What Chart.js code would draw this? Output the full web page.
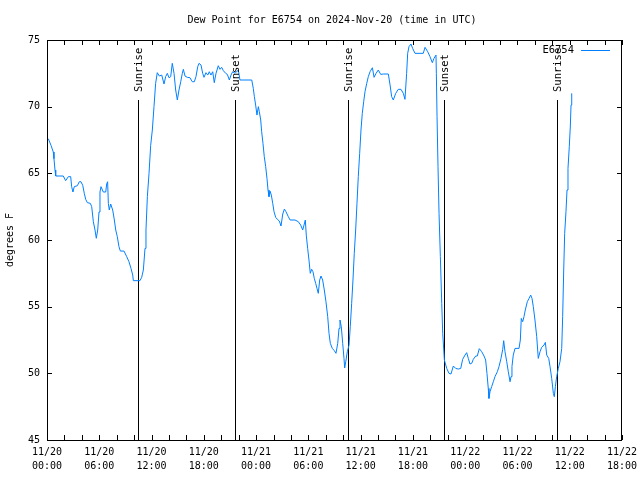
<!DOCTYPE html>
<html>
<head>
<meta charset="utf-8">
<script src="https://cdn.jsdelivr.net/npm/chart.js@4.4.1/dist/chart.umd.min.js"></script>
<style>
    html, body { margin: 0; padding: 0; background: #fff; }
    canvas { display: block; }
</style>
</head>
<body>
<canvas id="dewChart" width="640" height="480"></canvas>
<script>
// hours since 2024-11-20 00:00 UTC
const hours = [
    0.15, 0.46, 0.72, 0.8, 0.92, 1.0, 1.87, 2.14, 2.45, 2.72, 2.83, 2.98, 3.13, 3.48, 3.71, 3.9,
    4.1, 4.28, 4.44, 4.63, 4.97, 5.13, 5.32, 5.51, 5.66, 5.82, 5.97, 6.08, 6.2, 6.46, 6.74, 6.85,
    6.96, 7.04, 7.15, 7.31, 7.54, 7.73, 7.89, 8.07, 8.26, 8.42, 8.84, 9.15, 9.41, 9.64, 9.84, 9.91,
    10.67, 10.87, 11.06, 11.25, 11.36, 11.52, 11.71, 11.9, 12.09, 12.28, 12.47, 12.66, 12.89, 13.17,
    13.43, 13.62, 13.81, 14.0, 14.2, 14.38, 14.58, 14.77, 14.96, 15.15, 15.35, 15.53, 15.65, 15.84,
    16.1, 16.41, 16.68, 16.91, 17.1, 17.3, 17.45, 17.68, 17.87, 18.02, 18.25, 18.45, 18.63, 18.82,
    19.02, 19.2, 19.4, 19.66, 19.86, 20.05, 20.24, 20.51, 20.7, 20.93, 21.12, 21.31, 21.58, 21.96,
    22.15, 23.5, 23.68, 23.8, 23.95, 24.1, 24.26, 24.37, 24.53, 24.64, 24.79, 24.94, 25.1, 25.25,
    25.37, 25.48, 25.6, 25.75, 25.91, 26.06, 26.25, 26.44, 26.67, 26.86, 27.06, 27.25, 27.43, 27.7,
    27.9, 28.47, 28.85, 29.12, 29.35, 29.5, 29.65, 29.76, 29.92, 30.07, 30.22, 30.38, 30.53, 30.68,
    30.84, 30.99, 31.14, 31.3, 31.45, 31.64, 31.83, 32.02, 32.22, 32.37, 32.52, 32.75, 32.98, 33.17,
    33.37, 33.52, 33.63, 33.78, 33.94, 34.09, 34.17, 34.29, 34.47, 34.67, 34.81, 34.97, 35.12, 35.27,
    35.43, 35.58, 35.73, 35.89, 36.04, 36.19, 36.35, 36.5, 36.7, 36.88, 37.08, 37.35, 37.54, 37.77,
    38.03, 38.3, 38.6, 39.18, 39.38, 39.56, 39.75, 40.03, 40.32, 40.63, 40.9, 41.09, 41.28, 41.4,
    41.55, 41.78, 41.97, 42.24, 43.19, 43.39, 43.7, 43.96, 44.23, 44.42, 44.65, 44.69, 44.77, 44.88,
    45.0, 45.15, 45.31, 45.42, 45.54, 45.61, 45.88, 46.14, 46.37, 46.64, 46.91, 47.21, 47.49, 47.71,
    47.98, 48.17, 48.36, 48.55, 48.75, 48.93, 49.21, 49.39, 49.62, 49.9, 50.16, 50.35, 50.5, 50.65,
    50.73, 50.85, 51.04, 51.23, 51.42, 51.69, 51.88, 52.11, 52.31, 52.42, 52.57, 52.77, 52.95, 53.15,
    53.26, 53.37, 53.52, 53.72, 54.18, 54.33, 54.44, 54.6, 54.75, 54.9, 55.13, 55.33, 55.52, 55.67,
    55.82, 56.01, 56.21, 56.39, 56.59, 56.78, 57.05, 57.2, 57.36, 57.59, 57.74, 57.93, 58.12, 58.23,
    58.35, 58.5, 58.69, 58.88, 59.08, 59.19, 59.31, 59.42, 59.57, 59.69, 59.8, 59.95, 60.07, 60.15,
    60.23
];
const dewPoint = [
    67.6, 67.1, 66.6, 66.1, 65.25, 64.8, 64.8, 64.45, 64.75, 64.75, 64.0, 63.6, 64.0, 64.07, 64.37, 64.37,
    64.1, 63.5, 63.05, 62.8, 62.75, 62.5, 61.37, 60.75, 60.13, 60.75, 62.1, 63.6, 64.0, 63.6, 63.6, 64.2,
    64.37, 62.75, 62.25, 62.7, 62.25, 61.5, 60.75, 60.25, 59.5, 59.17, 59.17, 58.75, 58.37, 57.87, 57.37, 56.95,
    56.95, 57.2, 57.75, 59.37, 60.75, 63.25, 65.0, 67.1, 68.25, 70.0, 71.75, 72.55, 72.3, 72.37,
    71.7, 72.25, 72.5, 72.17, 72.25, 73.25, 72.5, 71.25, 70.5, 71.25, 71.87, 72.5, 72.8, 72.3,
    72.2, 72.17, 71.87, 71.87, 72.25, 73.0, 73.25, 73.12, 72.5, 72.2, 72.55, 72.37, 72.62, 72.37,
    72.62, 71.8, 72.5, 73.07, 72.8, 72.95, 72.7, 72.5, 72.42, 72.0, 72.37, 72.62, 72.5, 72.75,
    72.0, 72.0, 71.37, 70.75, 70.12, 69.37, 70.0, 69.62, 69.0, 68.12, 67.25, 66.25, 65.5, 64.62,
    63.75, 63.25, 63.67, 63.37, 62.75, 62.12, 61.7, 61.55, 61.42, 61.05, 61.95, 62.32, 62.12, 61.75,
    61.5, 61.5, 61.37, 61.12, 60.75, 61.12, 61.5, 60.37, 59.37, 58.5, 57.5, 57.8, 57.62, 57.12,
    56.75, 56.37, 56.0, 57.0, 57.3, 57.0, 56.25, 55.37, 54.25, 53.0, 52.25, 51.87, 51.7, 51.5,
    52.25, 53.37, 54.0, 53.5, 52.25, 51.12, 50.4, 50.87, 51.62, 52.12, 53.5, 55.25, 57.0, 59.0,
    60.75, 62.75, 64.75, 66.5, 68.25, 69.5, 70.37, 71.12, 71.75, 72.25, 72.62, 72.92, 72.2, 72.5,
    72.75, 72.42, 72.45, 72.45, 71.62, 70.75, 70.5, 71.0, 71.3, 71.3, 71.0, 70.55, 72.5, 74.0,
    74.5, 74.7, 74.37, 74.0, 74.0, 74.45, 74.12, 73.75, 73.3, 73.62, 73.87, 72.5, 69.25, 65.5,
    62.0, 58.75, 55.25, 53.0, 51.75, 51.0, 50.37, 50.0, 49.95, 50.55, 50.37, 50.32, 50.37, 51.05,
    51.37, 51.55, 51.12, 50.7, 50.75, 51.05, 51.3, 51.3, 51.85, 51.62, 51.3, 51.0, 50.0, 48.87,
    48.12, 48.62, 49.0, 49.37, 49.75, 50.12, 50.5, 51.12, 51.8, 52.45, 51.62, 50.87, 50.12, 49.37,
    49.75, 50.5, 51.37, 51.87, 51.87, 52.5, 54.12, 53.87, 54.25, 54.75, 55.37, 55.62, 55.87, 55.62,
    55.0, 54.0, 52.75, 51.12, 51.62, 51.95, 52.12, 52.32, 51.37, 51.12, 50.5, 49.62, 48.5, 48.25,
    49.0, 49.75, 50.37, 50.87, 51.87, 54.25, 57.75, 60.5, 62.12, 63.75, 65.37, 67.0, 68.55, 70.12,
    71.0
];

const eventHours = [10.48, 21.61, 34.58, 45.6, 58.57];
const eventNames = ['Sunrise', 'Sunset', 'Sunrise', 'Sunset', 'Sunrise'];
const eventTop = 70.5;

const xTickLabels = [
    ['11/20', '00:00'], ['11/20', '06:00'], ['11/20', '12:00'], ['11/20', '18:00'],
    ['11/21', '00:00'], ['11/21', '06:00'], ['11/21', '12:00'], ['11/21', '18:00'],
    ['11/22', '00:00'], ['11/22', '06:00'], ['11/22', '12:00'], ['11/22', '18:00']
];

const FONT = 'DejaVu Sans Mono';
const LINE_BLUE = 'rgb(0, 128, 255)';

// sunrise / sunset markers, snapped to whole pixels so they stay 1px sharp
const eventLines = {
    id: 'eventLines',
    beforeDatasetsDraw(chart) {
        const ctx = chart.ctx;
        const x = chart.scales.x;
        const y = chart.scales.y;
        ctx.save();
        ctx.strokeStyle = '#000';
        ctx.lineWidth = 1;
        ctx.beginPath();
        eventHours.forEach(function(h) {
            const px = Math.round(x.getPixelForValue(h)) + 0.5;
            ctx.moveTo(px, Math.round(y.getPixelForValue(eventTop)));
            ctx.lineTo(px, y.getPixelForValue(45));
        });
        ctx.stroke();
        ctx.restore();
    }
};

// gnuplot-like frame, inward ticks, titles, event labels and key
const gnuplotDecor = {
    id: 'gnuplotDecor',
    afterDraw(chart) {
        const ctx = chart.ctx;
        const a = chart.chartArea;
        const x = chart.scales.x;
        const y = chart.scales.y;
        ctx.save();
        ctx.strokeStyle = '#000';
        ctx.fillStyle = '#000';
        ctx.lineWidth = 1;

        ctx.strokeRect(a.left + 0.5, a.top + 0.5, a.right - a.left - 1, a.bottom - a.top);

        ctx.beginPath();
        for (let h = 0; h <= 66; h += 2) {
            const px = Math.round(x.getPixelForValue(h)) + 0.5;
            ctx.moveTo(px, a.bottom);
            ctx.lineTo(px, a.bottom - 5);
            ctx.moveTo(px, a.top);
            ctx.lineTo(px, a.top + 5);
        }
        for (let v = 45; v <= 75; v += 5) {
            const py = Math.round(y.getPixelForValue(v)) + 0.5;
            ctx.moveTo(a.left, py);
            ctx.lineTo(a.left + 5, py);
            ctx.moveTo(a.right, py);
            ctx.lineTo(a.right - 5, py);
        }
        ctx.stroke();

        ctx.font = '10px "' + FONT + '"';
        ctx.textAlign = 'center';
        ctx.textBaseline = 'middle';
        ctx.fillText('Dew Point for E6754 on 2024-Nov-20 (time in UTC)', 332, 20);

        ctx.save();
        ctx.translate(10, 240);
        ctx.rotate(-Math.PI / 2);
        ctx.fillText('degrees F', 0, 0);
        ctx.restore();

        ctx.font = '10.5px "' + FONT + '"';
        eventHours.forEach(function(h, i) {
            const px = Math.round(x.getPixelForValue(h)) + 1;
            const py = y.getPixelForValue(eventTop) - 8;
            ctx.save();
            ctx.translate(px, py);
            ctx.rotate(-Math.PI / 2);
            ctx.textAlign = 'left';
            ctx.fillText(eventNames[i], 0, 0);
            ctx.restore();
        });

        // key
        ctx.textAlign = 'right';
        ctx.fillText('E6754', 574, 50);
        ctx.strokeStyle = LINE_BLUE;
        ctx.beginPath();
        ctx.moveTo(581, 50.5);
        ctx.lineTo(610, 50.5);
        ctx.stroke();
        ctx.restore();
    }
};

new Chart(document.getElementById('dewChart'), {
    type: 'line',
    data: {
        datasets: [{
            label: 'E6754',
            data: hours.map((h, i) => ({ x: h, y: dewPoint[i] })),
            borderColor: LINE_BLUE,
            borderWidth: 1,
            pointRadius: 0,
            tension: 0
        }]
    },
    options: {
        responsive: false,
        animation: false,
        layout: { padding: { top: 40, right: 18, left: 0, bottom: 0 } },
        plugins: {
            legend: { display: false },
            title: { display: false },
            tooltip: { enabled: false }
        },
        scales: {
            x: {
                type: 'linear',
                min: 0,
                max: 66,
                grid: { display: false, drawTicks: false },
                border: { display: false },
                afterFit: function(scale) {
                    scale.height = 40;
                    scale.paddingLeft = 0;
                    scale.paddingRight = 0;
                },
                ticks: {
                    stepSize: 6,
                    autoSkip: false,
                    maxRotation: 0,
                    padding: 5,
                    color: '#000',
                    font: { family: FONT, size: 10, lineHeight: 1.4 },
                    callback: function(value) { return xTickLabels[Math.round(value / 6)]; }
                }
            },
            y: {
                min: 45,
                max: 75,
                grid: { display: false, drawTicks: false },
                border: { display: false },
                afterFit: function(scale) { scale.width = 47; },
                ticks: {
                    stepSize: 5,
                    padding: 7,
                    color: '#000',
                    font: { family: FONT, size: 10 }
                }
            }
        }
    },
    plugins: [eventLines, gnuplotDecor]
});
</script>
</body>
</html>
